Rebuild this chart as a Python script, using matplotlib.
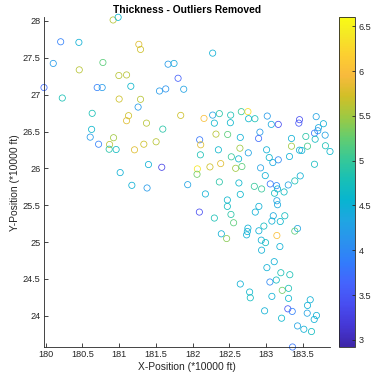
import numpy as np
import matplotlib
matplotlib.use("Agg")
import matplotlib.pyplot as plt
from matplotlib.colors import LinearSegmentedColormap, Normalize
from matplotlib.cm import ScalarMappable

plt.rcParams['font.family'] = ['Liberation Sans', 'DejaVu Sans']

# positions in *10000 ft, thickness values
x_pos = [
    180.918, 180.986, 180.204, 180.452, 181.268, 181.291, 180.103, 180.779, 180.457, 181.666,
    181.747, 180.996, 181.101, 181.802, 179.977, 180.701, 180.769, 181.159, 181.549, 181.634,
    181.879, 180.226, 181.000, 181.291, 181.258, 180.633, 181.128, 181.101, 181.372, 181.838,
    180.625, 181.594, 180.606, 180.924, 180.720, 180.870, 180.864, 180.959, 181.209, 181.336,
    181.503, 181.399, 181.580, 181.014, 181.173, 181.380, 181.933,
    182.273, 182.155, 182.273, 182.364, 182.296, 182.518, 182.514, 182.663, 182.753, 182.762,
    182.848, 183.016, 183.071, 183.166, 183.455, 183.446, 183.682, 183.781, 183.713, 183.704,
    183.659, 183.804, 183.668, 183.808, 183.870, 182.096, 182.110, 182.318, 182.477, 182.649,
    182.916, 182.898, 183.346, 183.541, 182.106, 182.351, 182.644, 182.758, 183.007, 183.346,
    183.455, 183.486, 183.564, 182.527, 182.626, 183.043, 183.166, 183.092, 183.319, 182.236,
    182.382, 182.586, 182.671, 182.065, 182.060, 182.925, 182.989, 183.659, 182.364, 182.630,
    182.840, 182.939, 183.057, 183.143, 183.156, 183.302, 183.391, 183.465, 182.174, 182.649,
    183.115, 183.245, 182.473, 182.473, 183.147, 183.156, 182.092, 182.296, 182.522, 182.558,
    182.902, 182.853, 183.098, 183.079, 183.193, 183.255, 183.428, 183.391, 182.391, 182.463,
    182.753, 182.745, 182.735, 182.970, 182.902, 183.147, 182.935, 182.993, 183.188, 182.939,
    183.111, 183.011, 183.201, 183.323, 182.649, 183.052, 183.139, 182.776, 182.785, 183.079,
    183.220, 183.306, 183.306, 183.601, 183.564, 182.980, 183.296, 183.356, 183.560, 183.686,
    183.655, 183.211, 183.428, 183.514, 183.618, 183.360,
]
y_pos = [
    28.014, 28.050, 27.718, 27.710, 27.683, 27.614, 27.424, 27.437, 27.337, 27.414,
    27.424, 27.260, 27.268, 27.223, 27.097, 27.097, 27.097, 27.114, 27.050, 27.078,
    27.074, 26.955, 26.941, 26.937, 26.832, 26.747, 26.715, 26.647, 26.614, 26.719,
    26.529, 26.533, 26.424, 26.416, 26.328, 26.324, 26.260, 26.256, 26.252, 26.328,
    26.361, 26.052, 26.015, 25.943, 25.770, 25.734, 25.779,
    27.564, 26.678, 26.723, 26.743, 26.614, 26.723, 26.620, 26.770, 26.770, 26.674,
    26.674, 26.710, 26.597, 26.597, 26.661, 26.614, 26.702, 26.606, 26.552, 26.511,
    26.478, 26.451, 26.396, 26.307, 26.229, 26.388, 26.320, 26.465, 26.460, 26.420,
    26.492, 26.406, 26.406, 26.433, 26.184, 26.252, 26.274, 26.211, 26.252, 26.301,
    26.247, 26.243, 26.301, 26.157, 26.129, 26.147, 26.116, 26.079, 26.161, 26.020,
    26.065, 26.001, 26.025, 25.993, 25.920, 26.007, 25.902, 26.056, 25.816, 25.802,
    25.756, 25.721, 25.789, 25.766, 25.721, 25.775, 25.830, 25.898, 25.653, 25.647,
    25.663, 25.680, 25.571, 25.484, 25.561, 25.507, 25.407, 25.326, 25.375, 25.262,
    25.484, 25.407, 25.357, 25.285, 25.279, 25.357, 25.184, 25.149, 25.112, 25.048,
    25.189, 25.143, 25.098, 25.217, 25.153, 25.089, 25.026, 24.993, 24.939, 24.890,
    24.734, 24.653, 24.584, 24.557, 24.431, 24.458, 24.485, 24.322, 24.244, 24.263,
    24.345, 24.372, 24.236, 24.217, 24.140, 24.067, 24.094, 24.059, 24.035, 24.004,
    23.950, 23.967, 23.862, 23.817, 23.786, 23.576,
]
thickness = [
    5.6, 4.6, 3.9, 4.5, 5.8, 5.7, 4.2, 5.2, 5.6, 4.2,
    4.4, 5.6, 5.6, 3.6, 3.7, 3.9, 4.2, 4.6, 4.2, 4.1,
    4.3, 4.8, 5.7, 5.6, 4.2, 4.8, 5.7, 5.8, 5.6, 5.7,
    4.6, 4.9, 4.2, 5.5, 3.9, 5.6, 4.9, 4.7, 5.8, 5.7,
    5.6, 4.5, 3.3, 4.5, 4.5, 4.2, 4.3,
    4.5, 6.0, 4.3, 4.9, 4.6, 4.8, 4.6, 5.0, 6.3, 4.6,
    4.8, 4.2, 4.4, 3.4, 3.4, 3.5, 4.3, 4.5, 4.4, 4.2,
    3.8, 4.3, 4.7, 4.8, 4.6, 3.8, 5.8, 5.6, 5.2, 4.5,
    4.2, 3.7, 4.5, 4.9, 4.8, 4.6, 5.5, 4.3, 4.5, 5.5,
    4.5, 4.5, 5.1, 5.0, 4.6, 4.6, 4.0, 4.4, 4.5, 5.7,
    5.8, 5.5, 5.2, 6.4, 5.3, 4.3, 4.5, 4.7, 4.9, 4.6,
    5.0, 5.0, 3.8, 4.0, 4.5, 4.3, 4.8, 4.5, 4.5, 4.6,
    4.7, 4.7, 4.6, 4.7, 4.3, 4.4, 3.4, 4.8, 4.9, 5.2,
    4.5, 4.5, 4.4, 4.5, 4.6, 4.7, 4.3, 5.2, 4.5, 5.4,
    4.5, 4.5, 4.5, 4.7, 4.5, 6.0, 4.5, 4.7, 4.5, 4.5,
    4.5, 4.5, 4.8, 4.8, 4.5, 4.0, 4.7, 4.6, 4.7, 4.5,
    5.3, 4.8, 4.6, 4.5, 4.5, 4.5, 3.5, 3.9, 4.3, 4.5,
    4.5, 4.6, 4.3, 4.5, 4.7, 3.8,
]
c_limits = [2.92, 6.60]
x_ticks = [180, 180.5, 181, 181.5, 182, 182.5, 183, 183.5]
y_ticks = [24, 24.5, 25, 25.5, 26, 26.5, 27, 27.5, 28]
c_ticks = [3, 3.5, 4, 4.5, 5, 5.5, 6, 6.5]

# parula colormap (every 4th entry of the 64-colour table)
parula_pts = [
    (0.2422, 0.1504, 0.6603), (0.2706, 0.2147, 0.8364), (0.2813, 0.3006, 0.9414),
    (0.2699, 0.3892, 0.9906), (0.1963, 0.4847, 0.9892), (0.1687, 0.5703, 0.9359),
    (0.1248, 0.6459, 0.8883), (0.0297, 0.7082, 0.8163), (0.0964, 0.7500, 0.7120),
    (0.2161, 0.7843, 0.5923), (0.3909, 0.8029, 0.4354), (0.6174, 0.7876, 0.2612),
    (0.8203, 0.7498, 0.1535), (0.9728, 0.7298, 0.2394), (0.9892, 0.8136, 0.1885),
    (0.9597, 0.9135, 0.1423), (0.9769, 0.9839, 0.0805),
]
parula_pos = [0, 4, 8, 12, 16, 20, 24, 28, 32, 36, 40, 44, 48, 52, 56, 60, 63]
parula = LinearSegmentedColormap.from_list(
    'parula', [(p / 63, c) for p, c in zip(parula_pos, parula_pts)])

axis_col = '#262626'
fig = plt.figure(figsize=(3.77, 3.78), dpi=100)
ax = fig.add_axes([0.1167, 0.082, 0.7586, 0.8722])
cax = fig.add_axes([0.9005, 0.082, 0.0411, 0.8722])

norm = Normalize(vmin=c_limits[0], vmax=c_limits[1])
colors = parula(norm(np.array(thickness)))
ax.scatter(x_pos, y_pos, s=20, facecolors='none', edgecolors=colors,
           linewidths=0.55, clip_on=False)

ax.set_xlim(min(x_pos), max(x_pos))
ax.set_ylim(min(y_pos), max(y_pos))
ax.set_xticks(x_ticks)
ax.set_yticks(y_ticks)
ax.set_xticklabels(['%g' % t for t in x_ticks])
ax.set_yticklabels(['%g' % t for t in y_ticks])
for s in ['top', 'right']:
    ax.spines[s].set_visible(False)
for s in ['left', 'bottom']:
    ax.spines[s].set_color(axis_col)
    ax.spines[s].set_linewidth(0.6)
ax.tick_params(direction='in', length=3, width=0.6, colors=axis_col,
               labelsize=6.6, pad=2.5)
ax.set_xlabel('X-Position (*10000 ft)', fontsize=7.4, color=axis_col, labelpad=1.5)
ax.set_ylabel('Y-Position (*10000 ft)', fontsize=7.4, color=axis_col, labelpad=2)
ax.set_title('Thickness - Outliers Removed', fontsize=7.4, fontweight='bold', pad=3)

sm = ScalarMappable(norm=norm, cmap=parula)
cb = fig.colorbar(sm, cax=cax, ticks=c_ticks)
cb.ax.set_yticklabels(['%g' % t for t in c_ticks])
cb.outline.set_linewidth(0.6)
cb.outline.set_edgecolor(axis_col)
cb.ax.tick_params(direction='in', length=2.5, width=0.6, colors=axis_col,
                  labelsize=6.6, pad=2.5)

fig.savefig('out.png', dpi=100)
